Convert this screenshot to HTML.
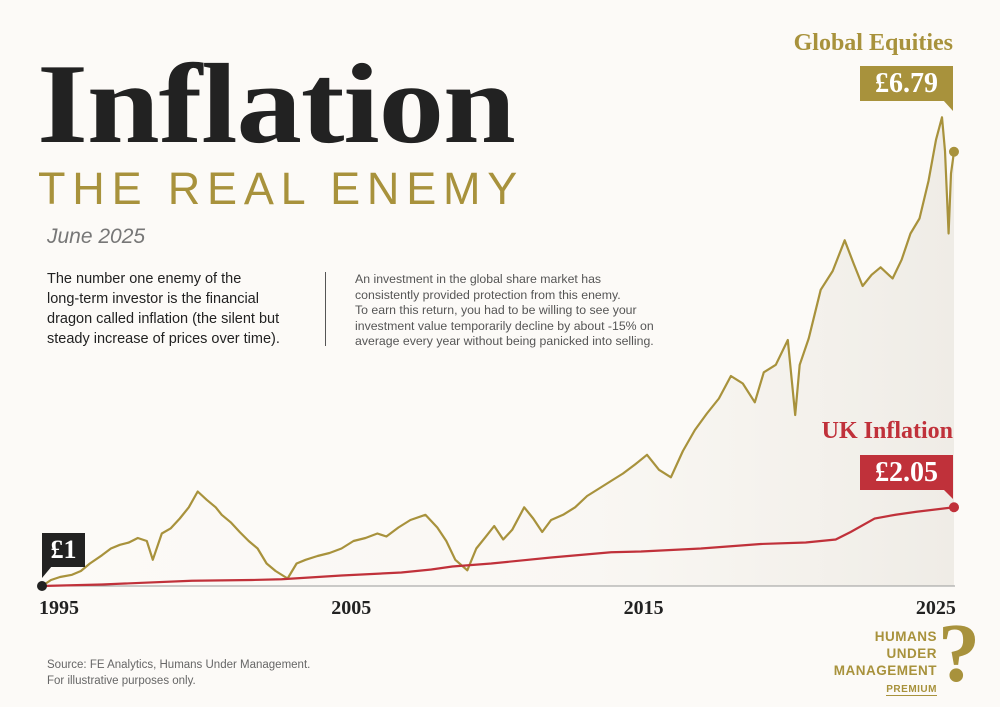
<!DOCTYPE html>
<html><head><meta charset="utf-8"><style>
html,body{margin:0;padding:0;background:#fcfaf7;}
body{width:1000px;height:707px;position:relative;overflow:hidden;font-family:"Liberation Sans",sans-serif;}
.abs{position:absolute;}
</style></head><body>
<div class="abs" style="left:37px;top:36px;font-family:'Liberation Serif',serif;font-weight:bold;font-size:114px;line-height:135px;color:#222;letter-spacing:-1px;transform:scaleX(1.15);transform-origin:0 0;">Inflation</div>
<div class="abs" style="left:38px;top:166px;font-size:45px;line-height:46px;color:#a8923c;letter-spacing:6.8px;">THE REAL ENEMY</div>
<div class="abs" style="left:47px;top:225px;font-size:21px;font-style:italic;color:#777;">June 2025</div>
<div class="abs" style="left:47px;top:269px;width:290px;font-size:14.5px;line-height:20px;color:#222;">The number one enemy of the<br>long-term investor is the financial<br>dragon called inflation (the silent but<br>steady increase of prices over time).</div>
<div class="abs" style="left:325px;top:272px;width:1px;height:74px;background:#555;"></div>
<div class="abs" style="left:355px;top:272px;width:360px;font-size:12.3px;line-height:15.5px;color:#555;">An investment in the global share market has<br>consistently provided protection from this enemy.<br>To earn this return, you had to be willing to see your<br>investment value temporarily decline by about -15% on<br>average every year without being panicked into selling.</div>

<svg class="abs" style="left:0;top:0" width="1000" height="707">
<defs><linearGradient id="g" x1="0" x2="1" y1="0" y2="0"><stop offset="0" stop-color="#f3f0ea" stop-opacity="0"/><stop offset="0.6" stop-color="#f3f0ea" stop-opacity="0.3"/><stop offset="1" stop-color="#efece6" stop-opacity="1"/></linearGradient></defs>
<g id="plot"></g>
</svg>

<div class="abs" style="right:47px;top:30px;font-family:'Liberation Serif',serif;font-weight:bold;font-size:24px;color:#a8923c;">Global Equities</div>
<div class="abs" style="left:860px;top:66px;width:93px;height:35px;background:#a8923c;color:#fff;font-family:'Liberation Serif',serif;font-weight:bold;font-size:28px;line-height:35px;text-align:center;">£6.79</div>
<div class="abs" style="right:47px;top:418px;font-family:'Liberation Serif',serif;font-weight:bold;font-size:24px;color:#c0313a;">UK Inflation</div>
<div class="abs" style="left:860px;top:455px;width:93px;height:35px;background:#c0313a;color:#fff;font-family:'Liberation Serif',serif;font-weight:bold;font-size:28px;line-height:35px;text-align:center;">£2.05</div>
<div class="abs" style="left:42px;top:533px;width:43px;height:34px;background:#222;color:#fff;font-family:'Liberation Serif',serif;font-weight:bold;font-size:26px;line-height:34px;text-align:center;">£1</div>

<div class="abs" style="left:47px;top:657px;font-size:11.5px;line-height:16px;color:#666;">Source: FE Analytics, Humans Under Management.<br>For illustrative purposes only.</div>
<div class="abs" style="right:63px;top:628px;text-align:right;font-weight:bold;font-size:13.5px;line-height:17px;color:#a8923c;letter-spacing:0.5px;">HUMANS<br>UNDER<br>MANAGEMENT<br><span style="font-size:10px;border-bottom:1px solid #a8923c;">PREMIUM</span></div>
<div class="abs" style="left:938px;top:612px;font-family:'Liberation Serif',serif;font-weight:bold;font-size:84px;line-height:84px;color:#a8923c;">?</div>

<script>
const eqYears=[1995,1995.3,1995.6,1996,1996.3,1996.6,1997,1997.3,1997.6,1997.9,1998.2,1998.5,1998.7,1999,1999.3,1999.6,1999.9,2000.2,2000.5,2000.8,2001,2001.3,2001.6,2001.9,2002.2,2002.5,2002.8,2003.2,2003.5,2003.8,2004.2,2004.6,2005,2005.4,2005.8,2006.2,2006.5,2006.9,2007.3,2007.8,2008.2,2008.5,2008.8,2009.2,2009.5,2009.8,2010.1,2010.4,2010.7,2011.1,2011.4,2011.7,2012,2012.4,2012.8,2013.2,2013.6,2014,2014.4,2014.8,2015.2,2015.6,2016,2016.4,2016.8,2017.2,2017.6,2018,2018.4,2018.8,2019.1,2019.5,2019.9,2020.15,2020.3,2020.6,2021,2021.4,2021.8,2022.1,2022.4,2022.7,2023,2023.4,2023.7,2024,2024.3,2024.6,2024.85,2025.05,2025.15,2025.27,2025.35,2025.45];
const eqValues=[1.0,1.08,1.12,1.15,1.2,1.3,1.41,1.5,1.55,1.58,1.64,1.6,1.35,1.7,1.77,1.9,2.05,2.26,2.15,2.05,1.95,1.85,1.72,1.6,1.5,1.3,1.2,1.1,1.3,1.35,1.4,1.44,1.5,1.6,1.64,1.7,1.66,1.78,1.88,1.95,1.78,1.6,1.35,1.21,1.5,1.65,1.8,1.62,1.75,2.05,1.9,1.72,1.88,1.95,2.05,2.2,2.3,2.4,2.5,2.62,2.75,2.55,2.45,2.8,3.08,3.3,3.5,3.8,3.7,3.45,3.85,3.95,4.28,3.28,3.95,4.3,4.95,5.2,5.61,5.3,5.0,5.15,5.25,5.1,5.35,5.7,5.9,6.4,6.95,7.25,6.8,5.7,6.5,6.79];
const infYears=[1995,1997,2000,2002,2003,2005,2007,2008,2008.7,2010,2012,2014,2015,2017,2019,2020.5,2021.5,2022,2022.8,2023.5,2024.2,2025.45];
const infValues=[1.0,1.02,1.07,1.08,1.09,1.14,1.18,1.22,1.26,1.3,1.38,1.45,1.46,1.5,1.56,1.58,1.62,1.72,1.9,1.95,1.99,2.05];
const xTicks=[1995,2005,2015,2025];

const x=t=>42+(t-1995)*29.95;
const xl=t=>59+(t-1995)*29.23;
const y=v=>586-(v-1)*75;
const NS="http://www.w3.org/2000/svg";
const g=document.getElementById('plot');
function mk(tag,attrs){const e=document.createElementNS(NS,tag);for(const k in attrs)e.setAttribute(k,attrs[k]);g.appendChild(e);return e;}

let eqPts=eqYears.map((t,i)=>x(t).toFixed(1)+','+y(eqValues[i]).toFixed(1));
const area=mk('path',{d:'M'+eqPts.join(' L')+' L'+x(eqYears[eqYears.length-1])+',586 L42,586 Z',fill:'url(#g)'});



const axis=mk('line',{x1:42,x2:955,y1:586,y2:586,stroke:'#999','stroke-width':1});



xTicks.forEach(t=>{
  const tx=mk('text',{x:xl(t),y:614,'text-anchor':'middle','font-family':'Liberation Serif, serif','font-weight':'bold','font-size':20,fill:'#222'});
  tx.textContent=t;
  
  
});

const eqLine=mk('polyline',{points:eqPts.join(' '),fill:'none',stroke:'#a8923c','stroke-width':2.2,'stroke-linejoin':'round'});



const infLine=mk('polyline',{points:infYears.map((t,i)=>x(t)+','+y(infValues[i])).join(' '),fill:'none',stroke:'#c0313a','stroke-width':2.2});



const eqDot=mk('circle',{cx:x(eqYears[eqYears.length-1]),cy:y(eqValues[eqValues.length-1]),r:5,fill:'#a8923c'});


const infDot=mk('circle',{cx:x(infYears[infYears.length-1]),cy:y(infValues[infValues.length-1]),r:5,fill:'#c0313a'});


const startDot=mk('circle',{cx:42,cy:586,r:5,fill:'#222'});



const t1=mk('polygon',{points:'943,100 953,100 953,111',fill:'#a8923c'});


const t2=mk('polygon',{points:'943,489 953,489 953,499',fill:'#c0313a'});


const t3=mk('polygon',{points:'42,566 52,566 42,578',fill:'#222'});


</script>
</body></html>
